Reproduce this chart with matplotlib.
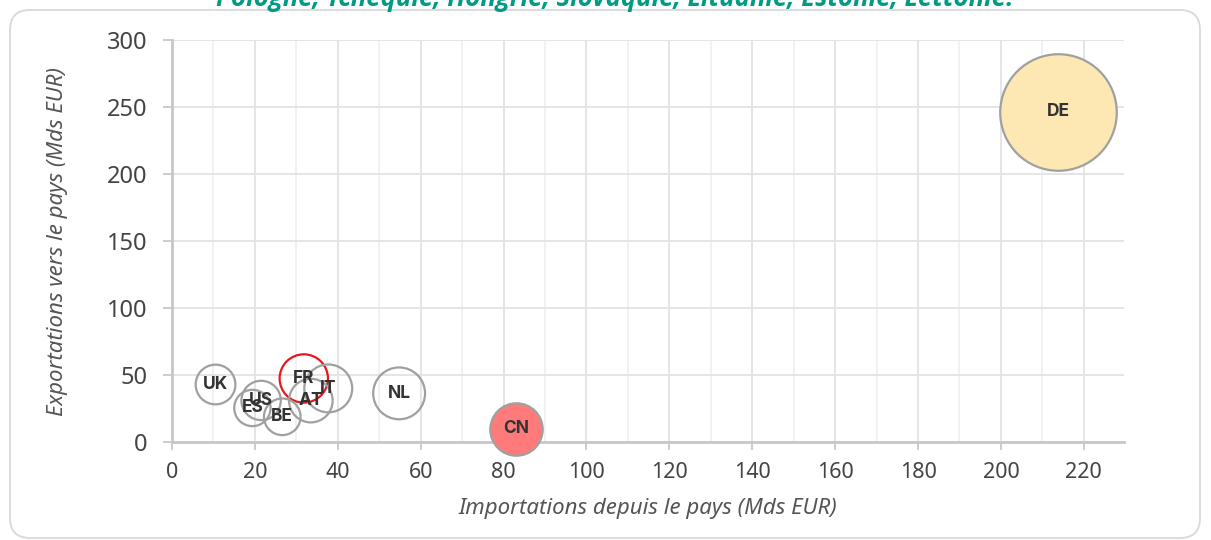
import numpy as np
import matplotlib
matplotlib.use("Agg")
from matplotlib import pyplot as plt
from matplotlib.patches import FancyBboxPatch
from matplotlib.transforms import IdentityTransform
from matplotlib.ticker import MultipleLocator

plt.rcParams["font.family"] = ["Noto Sans", "DejaVu Sans"]

# données (Mds EUR)
pays = ["DE", "CN", "NL", "UK", "FR", "IT", "AT", "US", "ES", "BE"]
importations = [213.8, 83.1, 54.8, 10.5, 31.8, 37.7, 33.5, 21.5, 19.4, 26.6]
exportations = [246.5, 10.0, 36.3, 42.9, 47.4, 40.0, 30.9, 31.0, 25.4, 18.8]

titre = "Pologne, Tchéquie, Hongrie, Slovaquie, Lituanie, Estonie, Lettonie."
xlabel = "Importations depuis le pays (Mds EUR)"
ylabel = "Exportations vers le pays (Mds EUR)"

couleurs = {"DE": "#fde8b3", "CN": "#ff7b7b"}
bords = {"FR": "#e8171b"}

fig = plt.figure(figsize=(12.11, 5.4), dpi=100)

# cadre arrondi
cadre = FancyBboxPatch((10, 2), 1190, 528, boxstyle="round,pad=0,rounding_size=20",
                       transform=IdentityTransform(), facecolor="none",
                       edgecolor="#d9d9d9", linewidth=1.3)
fig.patches.append(cadre)

fig.text(0.508, 1 - 6 / 540, titre, ha="center", va="baseline", color="#009a85",
         fontsize=18.5, fontweight="bold", style="italic",
         family=["Open Sans", "DejaVu Sans"])

ax = fig.add_axes([172 / 1211, 1 - 442 / 540, (1124 - 172) / 1211, (442 - 40) / 540])
ax.set_xlim(0, 229.7)
ax.set_ylim(0, 300)

# taille des bulles : total des échanges
total = np.array(importations) + np.array(exportations)
tailles = total * 15.3

for i, p in enumerate(pays):
    fc = couleurs.get(p, "none")
    ec = bords.get(p, "#a0a0a0")
    ax.scatter(importations[i], exportations[i], s=tailles[i], facecolor=fc,
               edgecolor=ec, linewidth=1.6, zorder=3, clip_on=False)
for i, p in enumerate(pays):
    ax.text(importations[i], exportations[i], p, ha="center", va="center",
            fontsize=12.5, fontweight="bold", color="#333333", zorder=5,
            family=["Inter", "DejaVu Sans"])

ax.xaxis.set_major_locator(MultipleLocator(20))
ax.xaxis.set_minor_locator(MultipleLocator(10))
ax.yaxis.set_major_locator(MultipleLocator(50))
ax.grid(which="major", color="#e3e3e3", linewidth=1.3)
ax.grid(which="minor", axis="x", color="#f0f0f0", linewidth=1.3)
ax.set_axisbelow(True)

for s in ["top", "right"]:
    ax.spines[s].set_visible(False)
for s in ["left", "bottom"]:
    ax.spines[s].set_color("#c8c8c8")
    ax.spines[s].set_linewidth(2)

ax.tick_params(axis="x", which="major", length=5.5, width=1.3, color="#c8c8c8",
               labelsize=15.5, labelcolor="#444444", pad=9)
ax.tick_params(axis="x", which="minor", length=0)
ax.tick_params(axis="y", length=6.5, width=1.3, color="#c8c8c8",
               labelsize=17, labelcolor="#444444", pad=11)

ax.set_xlabel(xlabel, fontsize=16, style="italic", color="#555555", labelpad=11)
ax.set_ylabel(ylabel, fontsize=16, style="italic", color="#555555", labelpad=28)

plt.savefig("out.png", dpi=100)
plt.close()
